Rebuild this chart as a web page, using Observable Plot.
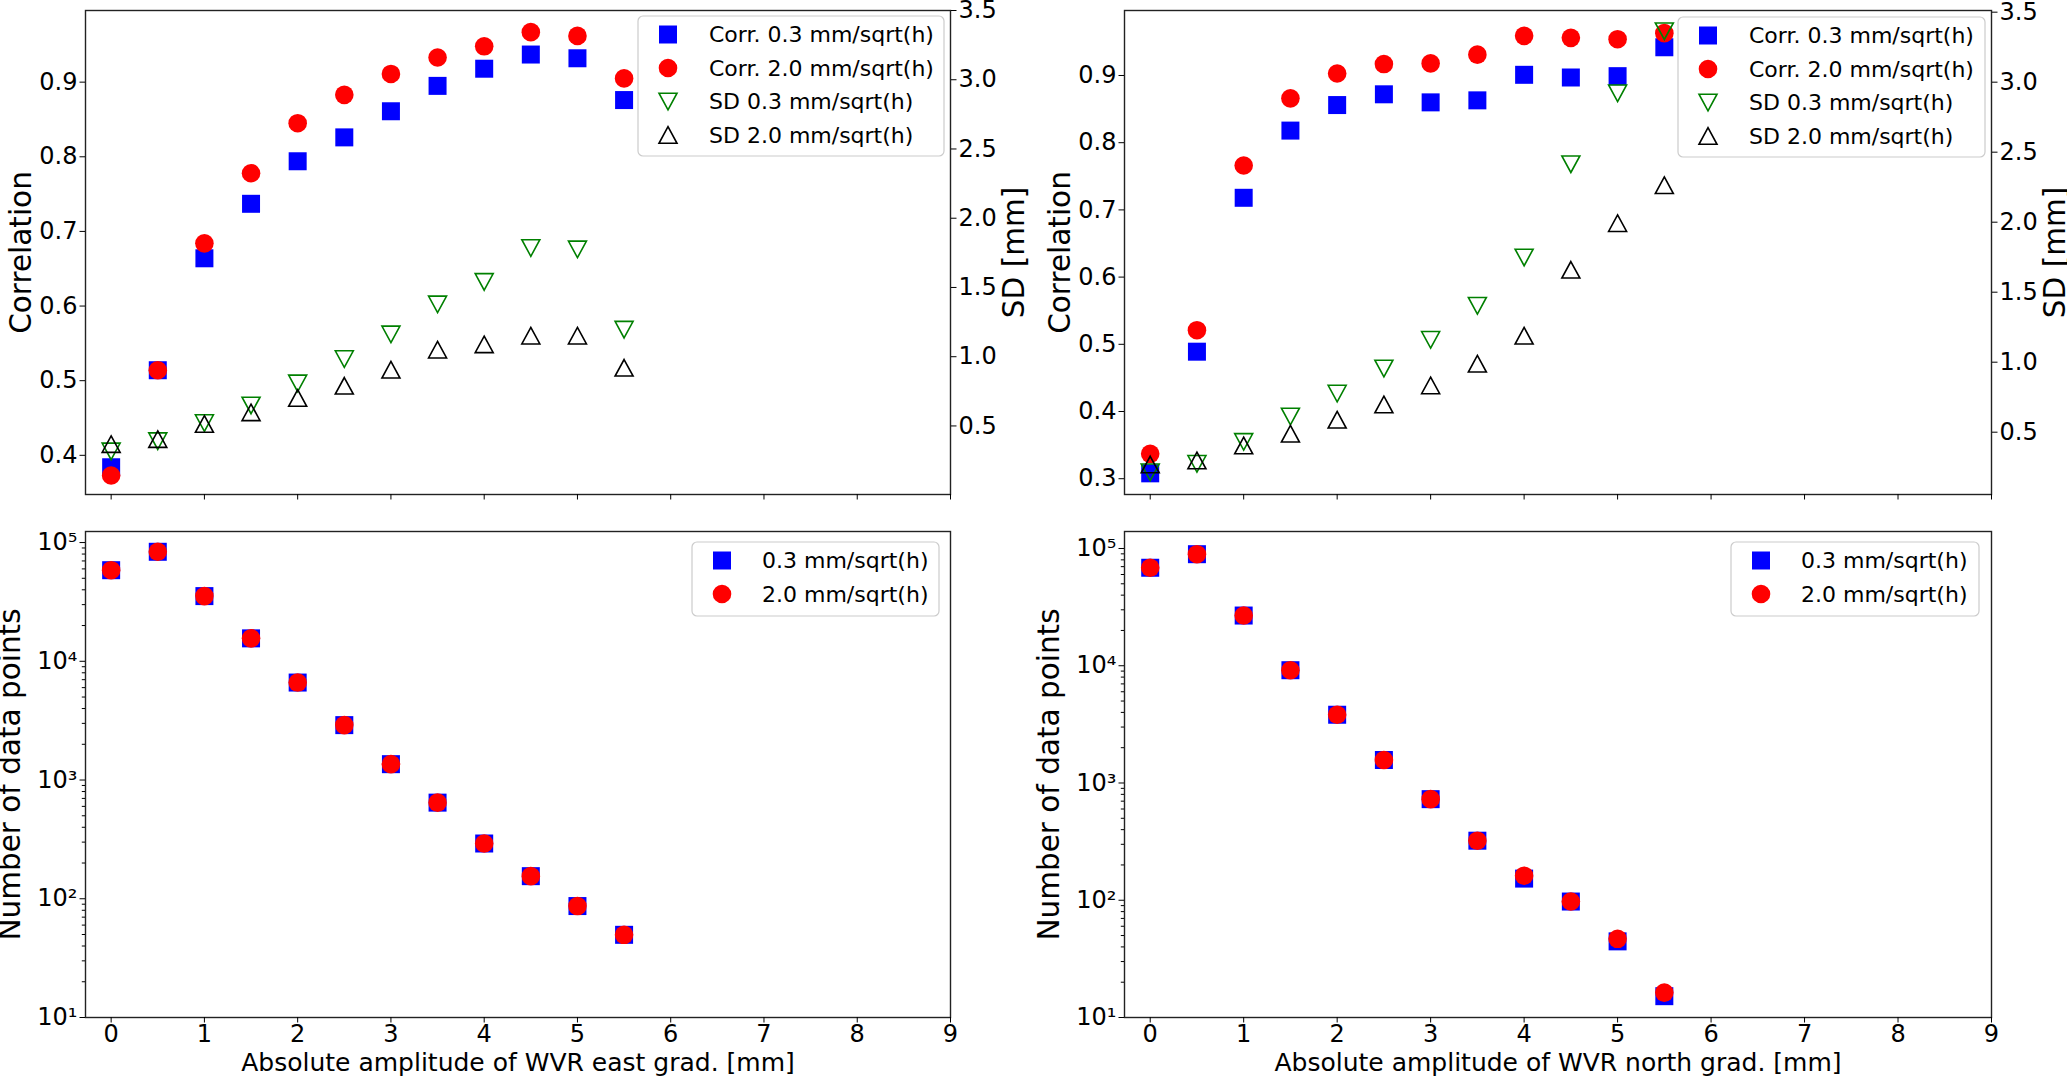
<!DOCTYPE html>
<html><head><meta charset="utf-8">
<script src="https://cdn.jsdelivr.net/npm/d3@7"></script>
<script src="https://cdn.jsdelivr.net/npm/@observablehq/plot@0.6"></script>
<style>
html,body{margin:0;padding:0;background:#fff;}
#root{position:relative;width:2067px;height:1076px;overflow:hidden;font-family:"DejaVu Sans",sans-serif;background:#fff;}
#root > svg{position:absolute;left:0;top:0;max-width:none !important;}
</style></head><body><div id="root"></div>
<script>
// ---------------- data ----------------
const amplitude = [0, 0.5, 1, 1.5, 2, 2.5, 3, 3.5, 4, 4.5, 5, 5.5];

const eastCorr03 = [0.384, 0.514, 0.664, 0.737, 0.794, 0.826, 0.861, 0.895, 0.918, 0.937, 0.932, 0.876];
const eastCorr20 = [0.373, 0.514, 0.684, 0.778, 0.845, 0.883, 0.911, 0.933, 0.948, 0.967, 0.962, 0.905];
const eastSD03   = [0.316, 0.390, 0.521, 0.648, 0.807, 0.983, 1.161, 1.378, 1.540, 1.785, 1.775, 1.195];
const eastSD20   = [0.369, 0.405, 0.514, 0.598, 0.702, 0.790, 0.906, 1.051, 1.089, 1.152, 1.152, 0.920];

const northCorr03 = [0.308, 0.489, 0.718, 0.818, 0.856, 0.872, 0.860, 0.863, 0.901, 0.897, 0.899, 0.942];
const northCorr20 = [0.337, 0.521, 0.766, 0.866, 0.903, 0.917, 0.918, 0.931, 0.959, 0.956, 0.954, 0.963];
const northSD03   = [0.214, 0.274, 0.431, 0.612, 0.776, 0.955, 1.160, 1.403, 1.748, 2.414, 2.921, 3.364];
const northSD20   = [0.269, 0.298, 0.405, 0.489, 0.589, 0.698, 0.834, 0.989, 1.189, 1.660, 1.993, 2.264];

const eastCount03  = [58500, 83600, 35400, 15600, 6620, 2900, 1360, 645, 292, 155, 86.8, 49.7];
const eastCount20  = [58500, 83600, 35400, 15600, 6620, 2900, 1360, 645, 292, 155, 86.8, 49.7];
const northCount03 = [68500, 89400, 26800, 9160, 3820, 1570, 728, 322, 153, 97.5, 44.6, 15.2];
const northCount20 = [68500, 89400, 26800, 9160, 3820, 1570, 728, 322, 162, 97.5, 46.9, 16.3];

const xTicks = [0, 1, 2, 3, 4, 5, 6, 7, 8, 9];
const eastCorrTicks = [0.4, 0.5, 0.6, 0.7, 0.8, 0.9];
const northCorrTicks = [0.3, 0.4, 0.5, 0.6, 0.7, 0.8, 0.9];
const sdTicks = [0.5, 1.0, 1.5, 2.0, 2.5, 3.0, 3.5];
const countTicks = [10, 100, 1000, 10000, 100000];
const countTickLabels = ["10¹", "10²", "10³", "10⁴", "10⁵"];

const topLegendLabels = ["Corr. 0.3 mm/sqrt(h)", "Corr. 2.0 mm/sqrt(h)", "SD 0.3 mm/sqrt(h)", "SD 2.0 mm/sqrt(h)"];
const bottomLegendLabels = ["0.3 mm/sqrt(h)", "2.0 mm/sqrt(h)"];
const xLabelEast = "Absolute amplitude of WVR east grad. [mm]";
const xLabelNorth = "Absolute amplitude of WVR north grad. [mm]";

// ---------------- layout ----------------
const W = 2067, H = 1076;
const FONT = "DejaVu Sans";
const xDomain = [-0.275, 9];
const frames = {
  tl: {x0: 85, x1: 950, y0: 10, y1: 494},
  tr: {x0: 1124, x1: 1991, y0: 10, y1: 494},
  bl: {x0: 85, x1: 950, y0: 531, y1: 1017},
  br: {x0: 1124, x1: 1991, y0: 531, y1: 1017}
};
const margins = f => ({marginLeft: f.x0, marginRight: W - f.x1, marginTop: f.y0, marginBottom: H - f.y1});
const baseStyle = {background: "transparent", overflow: "visible", fontFamily: FONT, color: "black"};

const BLUE = "#0000ff", RED = "#ff0000", GREEN = "#008000", BLACK = "#000000";
const square = {draw(c, size) { const r = Math.sqrt(size / Math.PI); c.rect(-r, -r, 2 * r, 2 * r); }};
const triUp = {draw(c, size) { const r = Math.sqrt(size / Math.PI), h = r * 0.92; c.moveTo(0, -h); c.lineTo(r, h); c.lineTo(-r, h); c.closePath(); }};
const triDown = {draw(c, size) { const r = Math.sqrt(size / Math.PI), h = r * 0.92; c.moveTo(0, h); c.lineTo(r, -h); c.lineTo(-r, -h); c.closePath(); }};
const fmt1 = d3.format(".1f");
const TICK = 5.5, PAD = 2.5, TICKFONT = 24, TITLEFONT = 29.5;

const root = document.getElementById("root");

function frameMark() { return Plot.frame({stroke: "#222", strokeWidth: 1.4}); }

function topPanel(f, corr03, corr20, sd03, sd20, corrDomain, corrTicks, sdDomain) {
  const rows = amplitude.map((x, i) => ({x, c03: corr03[i], c20: corr20[i], s03: sd03[i], s20: sd20[i]}));
  const main = Plot.plot({
    width: W, height: H, ...margins(f), style: baseStyle,
    x: {domain: xDomain, axis: null},
    y: {domain: corrDomain, axis: null},
    marks: [
      frameMark(),
      Plot.axisX({ticks: xTicks, tickSize: TICK, tickFormat: () => "", label: null}),
      Plot.axisY({ticks: corrTicks, tickSize: TICK, tickPadding: PAD, fontSize: TICKFONT, tickFormat: fmt1, label: null}),
      Plot.dot(rows, {x: "x", y: "c03", symbol: square, r: 9, fill: BLUE}),
      Plot.dot(rows, {x: "x", y: "c20", symbol: "circle", r: 9.3, fill: RED}),
      Plot.text(["Correlation"], {text: d => d, frameAnchor: "left", rotate: -90, dx: -63.5, fontSize: TITLEFONT, lineAnchor: "middle", textAnchor: "middle"})
    ]
  });
  const twin = Plot.plot({
    width: W, height: H, ...margins(f), style: baseStyle,
    x: {domain: xDomain, axis: null},
    y: {domain: sdDomain, axis: null},
    marks: [
      Plot.axisY({anchor: "right", ticks: sdTicks, tickSize: TICK, tickPadding: PAD, fontSize: TICKFONT, tickFormat: fmt1, label: null}),
      Plot.dot(rows, {x: "x", y: "s03", symbol: triDown, r: 9, stroke: GREEN, strokeWidth: 1.6, fill: "none"}),
      Plot.dot(rows, {x: "x", y: "s20", symbol: triUp, r: 9, stroke: BLACK, strokeWidth: 1.6, fill: "none"}),
      Plot.text(["SD [mm]"], {text: d => d, frameAnchor: "right", rotate: -90, dx: 64.4, fontSize: TITLEFONT, lineAnchor: "middle", textAnchor: "middle"})
    ]
  });
  root.append(main, twin);
}

function bottomPanel(f, c03, c20, countDomain, xLabel) {
  const rows = amplitude.map((x, i) => ({x, a: c03[i], b: c20[i]}));
  const minor = [];
  for (let k = 1; k < 5; ++k) for (let m = 2; m < 10; ++m) minor.push(m * Math.pow(10, k));
  const p = Plot.plot({
    width: W, height: H, ...margins(f), style: baseStyle,
    x: {domain: xDomain, axis: null},
    y: {type: "log", domain: countDomain, axis: null},
    marks: [
      frameMark(),
      Plot.axisX({ticks: xTicks, tickSize: TICK, tickPadding: 2, fontSize: TICKFONT, tickFormat: d => String(d), label: null}),
      Plot.axisY({ticks: countTicks, tickSize: TICK, tickPadding: PAD, fontSize: TICKFONT, tickFormat: d => countTickLabels[countTicks.indexOf(d)], label: null}),
      Plot.axisY({ticks: minor, tickSize: 3.2, tickFormat: () => "", label: null}),
      Plot.dot(rows, {x: "x", y: "a", symbol: square, r: 9, fill: BLUE}),
      Plot.dot(rows, {x: "x", y: "b", symbol: "circle", r: 9.3, fill: RED}),
      Plot.text(["Number of data points"], {text: d => d, frameAnchor: "left", rotate: -90, dx: -75, fontSize: TITLEFONT, lineAnchor: "middle", textAnchor: "middle"}),
      Plot.text([xLabel], {text: d => d, frameAnchor: "bottom", dy: 35.5, fontSize: 25, lineAnchor: "top", textAnchor: "middle"})
    ]
  });
  root.append(p);
}

topPanel(frames.tl, eastCorr03, eastCorr20, eastSD03, eastSD20, [0.3475, 0.996], eastCorrTicks, [0.005, 3.5]);
topPanel(frames.tr, northCorr03, northCorr20, northSD03, northSD20, [0.2765, 0.9967], northCorrTicks, [0.055, 3.512]);
bottomPanel(frames.bl, eastCount03, eastCount20, [10, 123900], xLabelEast);
bottomPanel(frames.br, northCount03, northCount20, [10, 139600], xLabelNorth);

// ---------------- legends ----------------
const legendSvg = d3.select(root).append("svg")
  .attr("width", W).attr("height", H)
  .style("position", "absolute").style("left", 0).style("top", 0)
  .style("font-family", FONT);

const topStyles = [
  {sym: square, fill: BLUE, stroke: "none", r: 9},
  {sym: d3.symbolCircle, fill: RED, stroke: "none", r: 9.3},
  {sym: triDown, fill: "none", stroke: GREEN, r: 9},
  {sym: triUp, fill: "none", stroke: BLACK, r: 9}
];
function legend(x, y, w, h, labels, styles, textOff) {
  const g = legendSvg.append("g").attr("transform", `translate(${x},${y})`);
  g.append("rect").attr("width", w).attr("height", h).attr("rx", 5)
    .attr("fill", "white").attr("fill-opacity", 0.8).attr("stroke", "#cccccc").attr("stroke-width", 1.2);
  labels.forEach((lab, i) => {
    const cy = 18.5 + 33.5 * i, s = styles[i];
    g.append("path").attr("transform", `translate(30,${cy})`)
      .attr("d", d3.symbol(s.sym, Math.PI * s.r * s.r)())
      .attr("fill", s.fill).attr("stroke", s.stroke).attr("stroke-width", 1.6);
    g.append("text").attr("x", textOff).attr("y", cy).attr("dy", "0.35em")
      .attr("font-size", 22).attr("fill", "black").text(lab);
  });
}
legend(638, 16, 306, 140, topLegendLabels, topStyles, 71);
legend(1678, 17, 307, 140, topLegendLabels, topStyles, 71);
legend(692, 542, 247, 74, bottomLegendLabels, topStyles.slice(0, 2), 70);
legend(1731, 542, 248, 74, bottomLegendLabels, topStyles.slice(0, 2), 70);
</script></body></html>
